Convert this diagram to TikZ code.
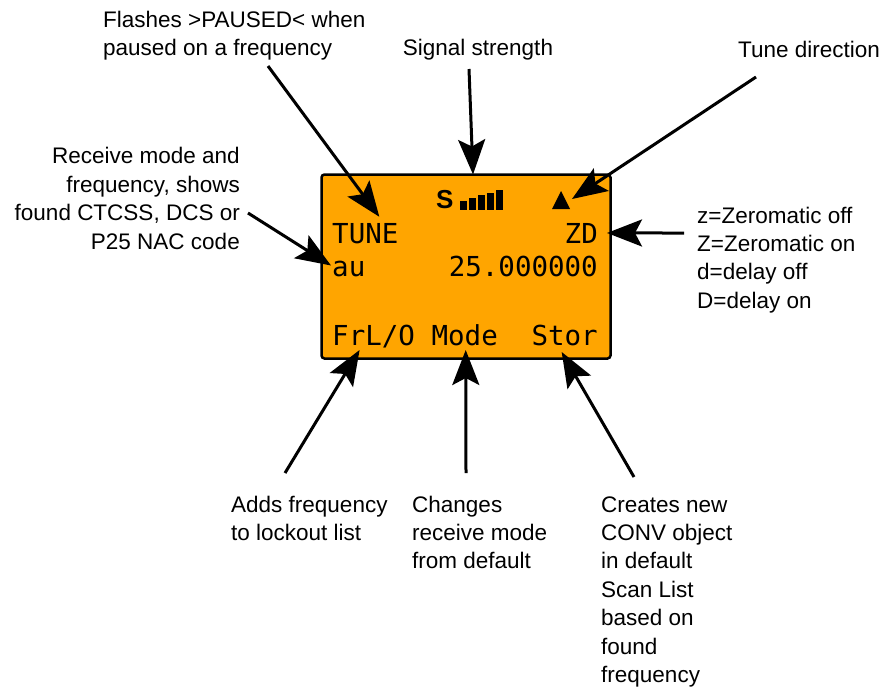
\documentclass[tikz,border=0pt]{standalone}
\usepackage{fontspec}
\setmainfont{Liberation Sans}
\newfontfamily\lcdfont{DejaVu Sans Mono}
\usetikzlibrary{arrows.meta}
\definecolor{lcdorange}{HTML}{FFA500}

\begin{document}
\begin{tikzpicture}[x=1pt,y=-1pt,
  note/.style={font=\fontsize{22.5}{28.4}\selectfont,inner sep=0},
  lcdtext/.style={font=\lcdfont\fontsize{27.5}{27.5}\selectfont,inner sep=0},
  pointer/.style={line width=3pt,-{Stealth[length=35pt,width=27pt,inset=7pt]}}]
\useasboundingbox (0,0) rectangle (885,686);
\node[draw,line width=2.5pt,fill=lcdorange,rounded corners=3pt,minimum width=289pt,minimum height=184pt,inner sep=0,outer sep=0] (lcd) at (466,266.5) {};
\node[anchor=base west,inner sep=0,font=\bfseries\fontsize{26}{26}\selectfont] (sig) at (436,208.5) {S};
\fill (460,209.5) rectangle (467,201);
\fill (469,209.5) rectangle (476,198);
\fill (478,209.5) rectangle (485,195);
\fill (487,209.5) rectangle (494,192.5);
\fill (496,209.5) rectangle (503,189.5);
\fill (552,209) -- (570,209) -- (561,191) -- cycle;
\coordinate (updir) at (572,199);
\node[lcdtext,anchor=base west] (tune) at (332,243) {TUNE};
\node[lcdtext,anchor=base east] (zd) at (598,243) {ZD};
\node[lcdtext,anchor=base west] (au) at (332,276) {au};
\node[lcdtext,anchor=base east] (freq) at (598,276) {25.000000};
\node[lcdtext,anchor=base west] (frlo) at (332,345) {FrL/O};
\node[lcdtext,anchor=base west] (mode) at (431.4,345) {Mode};
\node[lcdtext,anchor=base east] (stor) at (598,345) {Stor};
\node[note,anchor=base west,align=left] (flashnote) at (103,55.4) {Flashes >PAUSED< when\\paused on a frequency};
\node[note,anchor=base] (signote) at (478,55) {Signal strength};
\node[note,anchor=base west] (dirnote) at (738,57) {Tune direction};
\node[note,anchor=base east,align=right] (rxnote) at (240,249) {Receive mode and\\frequency, shows\\found CTCSS, DCS or\\P25 NAC code};
\node[note,anchor=base west,align=left] (zdnote) at (697,308.2) {z=Zeromatic off\\Z=Zeromatic on\\d=delay off\\D=delay on};
\node[note,anchor=base west,align=left] (frlonote) at (231,540.4) {Adds frequency\\to lockout list};
\node[note,anchor=base west,align=left] (modenote) at (412,568.8) {Changes\\receive mode\\from default};
\node[note,anchor=base west,align=left] (stornote) at (601,682.4) {Creates new\\CONV object\\in default\\Scan List\\based on\\found\\frequency};
\coordinate (flashtail) at (268,66);
\coordinate (sigtail) at (469,69);
\coordinate (dirtail) at (756,77);
\coordinate (rxtail) at (248,213);
\coordinate (zdtail) at (684,233);
\coordinate (frlotail) at (285,473);
\coordinate (modetail) at (466,473);
\coordinate (stortail) at (634,477);
\draw[pointer] (flashtail) -- ([shift={(14,-6)}]tune.north);
\draw[pointer] (sigtail) -- ([shift={(7,0)}]lcd.north);
\draw[pointer] (dirtail) -- (updir);
\draw[pointer] (rxtail) -- ([shift={(-1,-3)}]au.west);
\draw[pointer] (zdtail) -- ([xshift=9pt]zd.east);
\draw[pointer] (frlotail) -- ([shift={(-14,5)}]frlo.base);
\draw[pointer] (modetail) -- ([shift={(1,5)}]mode.base);
\draw[pointer] (stortail) -- ([shift={(-3,7)}]stor.base);
\end{tikzpicture}
\end{document}
